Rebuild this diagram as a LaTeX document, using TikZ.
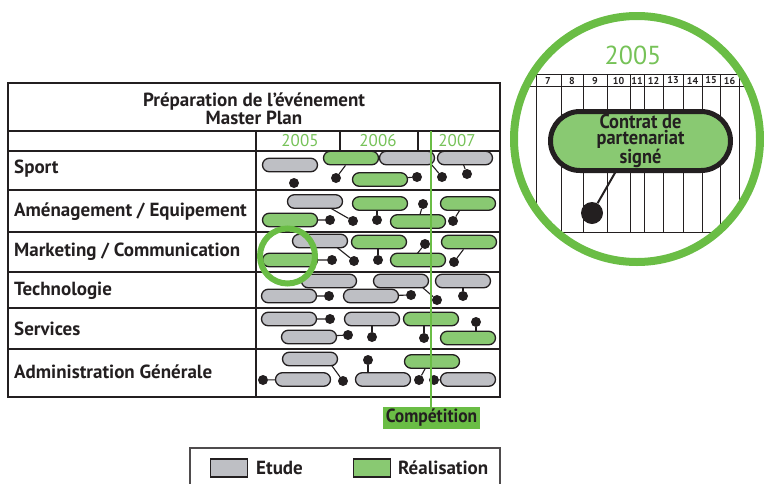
\documentclass[tikz,border=0pt]{standalone}
\usepackage{fontspec}
\setmainfont{PT Sans}
\newfontfamily\condfont[FakeStretch=0.92]{PT Sans}
\usetikzlibrary{shapes.misc,backgrounds}

\definecolor{barGray}{RGB}{190,191,196}
\definecolor{barGreen}{RGB}{137,201,114}
\definecolor{lineGreen}{RGB}{106,189,69}
\definecolor{yearGreen}{RGB}{118,194,88}
\definecolor{ink}{RGB}{35,31,32}

\pgfdeclarelayer{links}
\pgfsetlayers{background,links,main}

\tikzset{
  bar/.style={rounded rectangle, draw=ink, line width=1.3pt,
    minimum width=55pt, minimum height=13.5pt, inner sep=0pt},
  etude/.style={bar, fill=barGray},
  real/.style={bar, fill=barGreen},
  dot/.style={circle, fill=ink, minimum size=10pt, inner sep=0pt},
  link/.style={draw=ink, line width=1.1pt},
  rowlabel/.style={anchor=west, text=ink, inner sep=0pt,
    font=\bfseries\fontsize{19}{21}\selectfont},
  year/.style={text=yearGreen, inner sep=0pt, font=\fontsize{17}{19}\selectfont},
  frame/.style={draw=ink, line width=2.6pt},
  rule/.style={draw=ink, line width=1.1pt},
  month/.style={text=ink, inner sep=0pt, font=\bfseries\fontsize{10}{11}\selectfont},
  grid/.style={draw=ink, line width=1pt},
  legendtext/.style={anchor=west, text=ink, inner sep=0pt,
    font=\bfseries\fontsize{19}{21}\selectfont},
}

\begin{document}
\begin{tikzpicture}[x=1pt,y=-1pt]
\useasboundingbox (0,0) rectangle (764,483);

% ---------------- table frame ----------------
\begin{pgfonlayer}{background}
  \draw[rule] (256,131) -- (256,397);
  \draw[rule] (340,131) -- (340,151);
  \draw[rule] (418,131) -- (418,151);
  \foreach \yy in {151,190,232,272,308,349}
    \draw[rule] (8,\yy) -- (500,\yy);
  \draw[frame] (8,131) -- (500,131);
  \draw[frame] (8,83) rectangle (500,397);
\end{pgfonlayer}

\node[align=center, text=ink, font=\bfseries\fontsize{19}{18}\selectfont] (title) at (254,108.5)
  {Préparation de l'événement\\Master Plan};

\node[year] (y2005) at (300,141) {2005};
\node[year] (y2006) at (378,141) {2006};
\node[year] (y2007) at (457,141) {2007};

\node[rowlabel] (lSport) at (14,169) {Sport};
\node[rowlabel] (lAmen)  at (14,212) {Aménagement / Equipement};
\node[rowlabel] (lMark)  at (14,252) {Marketing / Communication};
\node[rowlabel] (lTech)  at (14,291) {Technologie};
\node[rowlabel] (lServ)  at (14,329) {Services};
\node[rowlabel] (lAdmin) at (14,372) {Administration Générale};

% ---------------- Sport ----------------
\node[etude] (sA) at (290,165) {};
\node[dot]   (sDa) at (294,183) {};
\node[real]  (sB) at (351,158) {};
\node[dot]   (sDb) at (336,178) {};
\node[etude] (sC) at (407,158) {};
\node[real]  (sD) at (380,179.5) {};
\node[dot]   (sDd) at (417,177) {};
\node[dot]   (sDc) at (442,177) {};
\node[etude] (sE) at (465,158) {};
\node[dot]   (sDe) at (467,174) {};

% ---------------- Aménagement / Equipement ----------------
\node[etude] (aA) at (315,201.5) {};
\node[dot]   (aDa) at (353,221) {};
\node[real]  (aB) at (290,220) {};
\node[dot]   (aDb) at (330,220) {};
\node[real]  (aC) at (380,203.5) {};
\node[dot]   (aDc) at (377,220) {};
\node[dot]   (aDe) at (423,204) {};
\node[real]  (aE) at (418,221.5) {};
\node[real]  (aF) at (468,203.5) {};
\node[dot]   (aDf) at (453,221) {};

% ---------------- Marketing / Communication ----------------
\node[etude] (mA) at (320,241) {};
\node[dot]   (mDa) at (354,261) {};
\node[real]  (mB) at (290,260) {};
\node[dot]   (mDb) at (332,260) {};
\node[real]  (mC) at (379,242) {};
\node[dot]   (mDc) at (378,260) {};
\node[dot]   (mDe) at (425,244) {};
\node[real]  (mE) at (418,260) {};
\node[real]  (mF) at (469,242) {};
\node[dot]   (mDf) at (454,262) {};

% ---------------- Technologie ----------------
\node[etude] (tA) at (329,281) {};
\node[etude] (tB) at (289,296) {};
\node[dot]   (tDb) at (329,296) {};
\node[etude] (tC) at (401,281) {};
\node[etude] (tD) at (371,296) {};
\node[dot]   (tDd) at (411,295) {};
\node[dot]   (tDc) at (437,300) {};
\node[etude] (tE) at (463,281) {};
\node[dot]   (tDe) at (463,296) {};

% ---------------- Services ----------------
\node[etude] (vA) at (289,319) {};
\node[dot]   (vDa) at (330,319) {};
\node[etude] (vB) at (372,319) {};
\node[dot]   (vDb) at (372,337) {};
\node[real]  (vC) at (431,319) {};
\node[dot]   (vDc) at (424,338) {};
\node[etude] (vD) at (309,337) {};
\node[dot]   (vDd) at (348,335) {};
\node[dot]   (vDe) at (476,322) {};
\node[real]  (vE) at (468,338) {};

% ---------------- Administration Générale ----------------
\node[etude] (nA) at (310,359) {};
\node[etude] (nB) at (303,379.5) {};
\node[dot]   (nDb) at (263,380) {};
\node[dot]   (nDa) at (343,381) {};
\node[dot]   (nDc) at (368,360) {};
\node[etude] (nC) at (383,379.5) {};
\node[real]  (nE) at (432,361.5) {};
\node[dot]   (nDe) at (419,380) {};
\node[dot]   (nDf) at (434,380) {};
\node[etude] (nF) at (468,379.5) {};

% connectors between milestones and tasks
\begin{pgfonlayer}{links}
  \draw[link] (sDb) -- (sB);
  \draw[link] (sD) -- (sDd);
  \draw[link] (sDc) -- ([xshift=19pt]sC.center);
  \draw[link] (sDe) -- ([xshift=-4pt]sE.center);
  \draw[link] (aDa) -- ([xshift=4pt]aA.center);
  \draw[link] (aB) -- (aDb);
  \draw[link] (aDc) -- (aDc |- aC);
  \draw[link] (aDe) -- (aE);
  \draw[link] (aDf) -- ([xshift=-4pt]aF.center);
  \draw[link] (mDa) -- ([xshift=9pt]mA.center);
  \draw[link] (mB) -- (mDb);
  \draw[link] (mDc) -- (mDc |- mC);
  \draw[link] (mDe) -- ([xshift=-6pt]mE.center);
  \draw[link] (mDf) -- (mF);
  \draw[link] (tB) -- (tDb);
  \draw[link] (tD) -- (tDd);
  \draw[link] (tDc) -- ([xshift=14pt]tC.center);
  \draw[link] (tDe) -- (tDe |- tE);
  \draw[link] (vA) -- (vDa);
  \draw[link] (vDb) -- (vDb |- vB);
  \draw[link] (vDc) -- (vDc |- vC);
  \draw[link] (vD) -- (vDd);
  \draw[link] (vDe) -- (vDe |- vE);
  \draw[link] (nDb) -- (nB);
  \draw[link] (nDa) -- ([xshift=17pt]nA.center);
  \draw[link] (nDc) -- (nDc |- nC);
  \draw[link] (nDe) -- ([xshift=-3pt]nE.center);
  \draw[link] (nDf) -- (nF);
\end{pgfonlayer}

% competition date marker
\node[fill=lineGreen, text=ink, minimum width=97pt, minimum height=22pt, inner sep=0pt,
  font=\condfont\bfseries\fontsize{19}{21}\selectfont] (comp) at (431.5,418) {Compétition};
\coordinate (compTop) at (431,131);
\draw[lineGreen, line width=2.6pt] (compTop) -- (compTop |- comp.north);

% highlight ring on the first Marketing task
\coordinate (ringC) at (287.5,256);
\draw[lineGreen, line width=6pt] (ringC) circle (27.5pt);

% ---------------- legend ----------------
\draw[draw=ink!80, line width=1.3pt] (190,448) rectangle (500,500);
\node[draw=ink, line width=1.3pt, fill=barGray, minimum width=37pt, minimum height=18pt, inner sep=0pt] (kEtude) at (229,468) {};
\node[legendtext] (tEtude) at (256,468) {Etude};
\node[draw=ink, line width=1.3pt, fill=barGreen, minimum width=37pt, minimum height=18pt, inner sep=0pt] (kReal) at (372,468) {};
\node[legendtext] (tReal) at (398,468) {Réalisation};

% ---------------- zoomed detail of 2005 ----------------
\coordinate (zoomC) at (637,139);
\begin{pgfonlayer}{background}
  \begin{scope}
    \clip (zoomC) circle (123pt);
    \draw[grid] (520,74) -- (760,74);
    \draw[grid] (520,86) -- (760,86);
    \draw[grid] (540,232) -- (740,232);
    \foreach \xx in {536,739}
      \draw[grid] (\xx,74) -- (\xx,232);
    \foreach \xx in {561,583,607,630,644,663,683,702,720}
      \draw[grid] (\xx,74) -- (\xx,232);
  \end{scope}
\end{pgfonlayer}
\foreach \xx/\mm in {548/7,572/8,595/9,618.5/10,637/11,653.5/12,673/13,692.5/14,711/15,729.5/16}
  \node[month] at (\xx,80.5) {\mm};

\node[text=yearGreen, inner sep=0pt, font=\fontsize{26}{28}\selectfont] (bigYear) at (633,55) {2005};

\node[rounded rectangle, draw=ink, line width=5pt, fill=barGreen, minimum width=180pt,
  minimum height=59pt, inner sep=0pt, align=center, text=ink,
  font=\condfont\bfseries\fontsize{20}{16.5}\selectfont] (pact) at (640.5,141)
  {Contrat de\\partenariat\\signé};
\node[circle, fill=ink, minimum size=22pt, inner sep=0pt] (pactDot) at (592,213) {};
\begin{pgfonlayer}{links}
  \draw[ink, line width=2pt] (pactDot) -- ([xshift=-13pt,yshift=-10pt]pact.center);
\end{pgfonlayer}

\draw[lineGreen, line width=8pt] (zoomC) circle (123pt);
\end{tikzpicture}
\end{document}
